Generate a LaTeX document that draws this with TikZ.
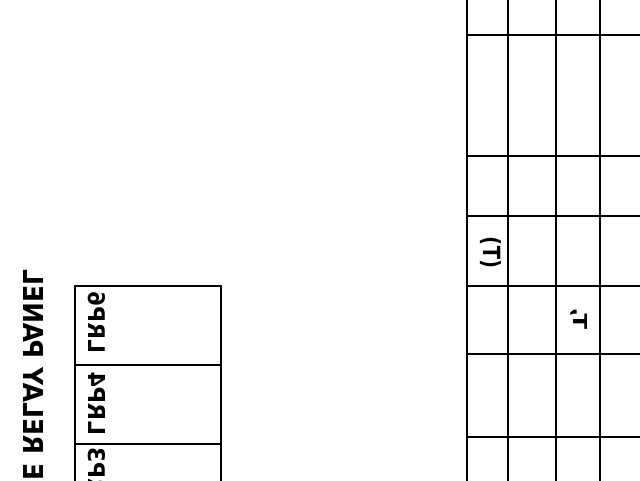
\documentclass[tikz,border=0pt]{standalone}
\usepackage{fontspec}
\usepackage{graphicx}
\setmainfont{DejaVu Sans}
% text mirrored and turned: reads upwards, letter tops pointing right
\newcommand\mirtext[3]{\scalebox{1}[-1]{\resizebox{#1}{#2}{\bfseries #3}}}
\begin{document}
\begin{tikzpicture}[x=1pt,y=-1pt,
  gridline/.style={line width=2.8pt, black},
  mir/.style={rotate=90, anchor=base west, inner sep=0pt, outer sep=0pt}]
\useasboundingbox (0,0) rectangle (640,480);
\clip (0,0) rectangle (640,480);
\fill[white] (0,0) rectangle (640,480);

% ---- left relay panel ----
\draw[gridline] (75,500) -- (75,286) -- (221,286) -- (221,500);
\draw[gridline] (75,365) -- (221,365);
\draw[gridline] (75,444) -- (221,444);

\node[mir] (title) at (23,480) {\mirtext{210pt}{20pt}{E RELAY PANEL}};
\node[mir] (lrp6) at (88,353) {\mirtext{61pt}{17pt}{LRP6}};
\node[mir] (lrp4) at (88,435) {\mirtext{63pt}{17pt}{LRP4}};
\node[mir] (lrp3) at (88,509) {\mirtext{62pt}{17pt}{LRP3}};

% ---- right grid ----
\foreach \x in {467,508,556,600}
  \draw[gridline] (\x,-5) -- (\x,485);
\foreach \y in {35,156,216,286,354,437}
  \draw[gridline] (467,\y) -- (645,\y);

\node[mir] (tlabel) at (483,268) {\mirtext{31pt}{18pt}{(T)}};
\node[mir] (tcomma) at (573,329) {\mirtext{21pt}{14pt}{T,}};
\end{tikzpicture}
\end{document}
